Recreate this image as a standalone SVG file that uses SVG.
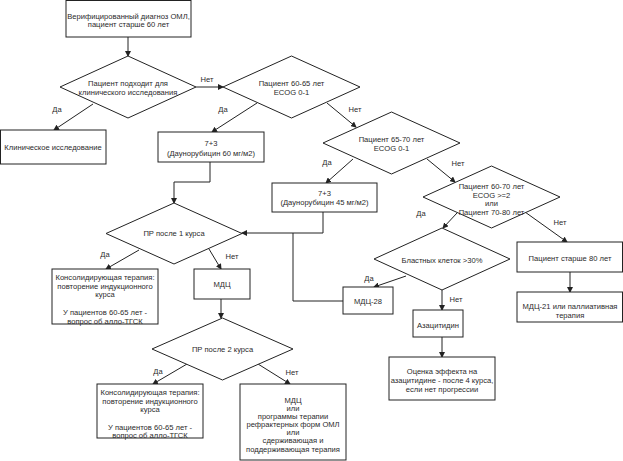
<svg xmlns="http://www.w3.org/2000/svg" width="623" height="461" viewBox="0 0 623 461">
<style>
.n{fill:#fff;stroke:#222;stroke-width:1}
.t{font-family:"Liberation Sans",Arial,sans-serif;font-size:7.6px;fill:#2a2a2a;text-anchor:middle}
.l{font-family:"Liberation Sans",Arial,sans-serif;font-size:7.6px;fill:#2a2a2a;text-anchor:middle}
.c{fill:none;stroke:#222;stroke-width:1;marker-end:url(#a)}
.p{fill:none;stroke:#222;stroke-width:1}
</style>
<defs>
<marker id="a" markerWidth="6" markerHeight="6" refX="5" refY="3" orient="auto" markerUnits="userSpaceOnUse">
<path d="M0,0 L6,3 L0,6 Z" fill="#222"/>
</marker>
</defs>
<rect width="623" height="461" fill="#fff"/>
<g id="connectors">
<path class="c" d="M128,37 V56"/>
<path class="c" d="M196,87 H223"/>
<path class="c" d="M93,104 L54,130"/>
<path class="c" d="M257,103 L212,132"/>
<path class="c" d="M210,162 V182 H174 V203"/>
<path class="c" d="M327,103 L356,127"/>
<path class="c" d="M353,159 L326,183"/>
<path class="c" d="M323,212 V233 H242"/>
<path class="p" d="M343,301 H293 V233"/>
<path class="c" d="M427,159 L455,182"/>
<path class="c" d="M457,213 L443,228"/>
<path class="c" d="M525,212 L567,242"/>
<path class="c" d="M406,276 L374,287"/>
<path class="c" d="M442,290 V310"/>
<path class="c" d="M442,337 V357"/>
<path class="c" d="M570,272 V292"/>
<path class="c" d="M139,250 L106,269"/>
<path class="c" d="M209,249 L221,269"/>
<path class="c" d="M221,299 V318"/>
<path class="c" d="M187,364 L153,384"/>
<path class="c" d="M258,364 L290,384"/>
<text class="l" x="207" y="82">Нет</text>
<text class="l" x="57" y="112">Да</text>
<text class="l" x="223" y="112">Да</text>
<text class="l" x="355" y="112">Нет</text>
<text class="l" x="327" y="165">Да</text>
<text class="l" x="458" y="166">Нет</text>
<text class="l" x="421" y="216">Да</text>
<text class="l" x="560" y="225">Нет</text>
<text class="l" x="369" y="281">Да</text>
<text class="l" x="456" y="302">Нет</text>
<text class="l" x="105" y="257">Да</text>
<text class="l" x="232" y="259">Нет</text>
<text class="l" x="158" y="374">Да</text>
<text class="l" x="292" y="375">Нет</text>
</g>
<g id="start">
<rect class="n" x="66" y="0.5" width="125" height="36.5"/>
<text class="t" x="128.5" y="19">Верифицированный диагноз ОМЛ,</text>
<text class="t" x="128.5" y="27">пациент старше 60 лет</text>
</g>
<g id="d1">
<polygon class="n" points="128,56 196,87 128,118 60,87"/>
<text class="t" x="128" y="86">Пациент подходит для</text>
<text class="t" x="128" y="95">клинического исследования</text>
</g>
<g id="clinical">
<rect class="n" x="0.5" y="130" width="105.5" height="34"/>
<text class="t" x="53" y="150">Клиническое исследование</text>
</g>
<g id="d2">
<polygon class="n" points="291.5,56 360,87 291.5,118 223,87"/>
<text class="t" x="291.5" y="86">Пациент 60-65 лет</text>
<text class="t" x="291.5" y="95">ECOG 0-1</text>
</g>
<g id="b60">
<rect class="n" x="158" y="132" width="106" height="30"/>
<text class="t" x="211" y="146">7+3</text>
<text class="t" x="211" y="156">(Даунорубицин 60 мг/м2)</text>
</g>
<g id="d3">
<polygon class="n" points="391.5,112 460,143 391.5,174 323,143"/>
<text class="t" x="391.5" y="142">Пациент 65-70 лет</text>
<text class="t" x="391.5" y="151">ECOG 0-1</text>
</g>
<g id="b45">
<rect class="n" x="272" y="183" width="105" height="29"/>
<text class="t" x="324.5" y="196">7+3</text>
<text class="t" x="324.5" y="205">(Даунорубицин 45 мг/м2)</text>
</g>
<g id="d6">
<polygon class="n" points="491.5,166 560,197 491.5,228 423,197"/>
<text class="t" x="491.5" y="189">Пациент 60-70 лет</text>
<text class="t" x="491.5" y="198">ECOG &gt;=2</text>
<text class="t" x="491.5" y="206">или</text>
<text class="t" x="491.5" y="215">Пациент 70-80 лет</text>
</g>
<g id="d7">
<polygon class="n" points="442,228 510,259 442,290 374,259"/>
<text class="t" x="442" y="263">Бластных клеток &gt;30%</text>
</g>
<g id="mdc28">
<rect class="n" x="343" y="287" width="50" height="27"/>
<text class="t" x="368" y="304">МДЦ-28</text>
</g>
<g id="aza">
<rect class="n" x="413" y="310" width="50" height="27"/>
<text class="t" x="438" y="328">Азацитидин</text>
</g>
<g id="eval">
<rect class="n" x="389" y="357" width="106" height="43"/>
<text class="t" x="442" y="374">Оценка эффекта на</text>
<text class="t" x="442" y="383">азацитидине - после 4 курса,</text>
<text class="t" x="442" y="392">если нет прогрессии</text>
</g>
<g id="old80">
<rect class="n" x="517" y="242" width="105.5" height="30"/>
<text class="t" x="570" y="261">Пациент старше 80 лет</text>
</g>
<g id="mdc21">
<rect class="n" x="517" y="292" width="105.5" height="30"/>
<text class="t" x="570" y="309">МДЦ-21 или паллиативная</text>
<text class="t" x="570" y="318">терапия</text>
</g>
<g id="d4">
<polygon class="n" points="174,203 242,233.5 174,264 106,233.5"/>
<text class="t" x="174" y="236">ПР после 1 курса</text>
</g>
<g id="cons1">
<rect class="n" x="52" y="269" width="106" height="55"/>
<text class="t" x="105" y="280">Консолидирующая терапия:</text>
<text class="t" x="105" y="289">повторение индукционного</text>
<text class="t" x="105" y="297">курса</text>
<text class="t" x="105" y="315">У пациентов 60-65 лет -</text>
<text class="t" x="105" y="324">вопрос об алло-ТГСК</text>
</g>
<g id="mdc">
<rect class="n" x="194" y="269" width="56" height="30"/>
<text class="t" x="222" y="287">МДЦ</text>
</g>
<g id="d5">
<polygon class="n" points="222.5,318 293,349 222.5,380 152,349"/>
<text class="t" x="222.5" y="352">ПР после 2 курса</text>
</g>
<g id="cons2">
<rect class="n" x="97" y="384" width="106" height="54"/>
<text class="t" x="150" y="395">Консолидирующая терапия:</text>
<text class="t" x="150" y="404">повторение индукционного</text>
<text class="t" x="150" y="412">курса</text>
<text class="t" x="150" y="430">У пациентов 60-65 лет -</text>
<text class="t" x="150" y="438">вопрос об алло-ТГСК</text>
</g>
<g id="refr">
<rect class="n" x="240" y="384" width="106" height="76"/>
<text class="t" x="293" y="403">МДЦ</text>
<text class="t" x="293" y="411">или</text>
<text class="t" x="293" y="419">программы терапии</text>
<text class="t" x="293" y="427">рефрактерных форм ОМЛ</text>
<text class="t" x="293" y="435">или</text>
<text class="t" x="293" y="443">сдерживающая и</text>
<text class="t" x="293" y="452">поддерживающая терапия</text>
</g>
</svg>
